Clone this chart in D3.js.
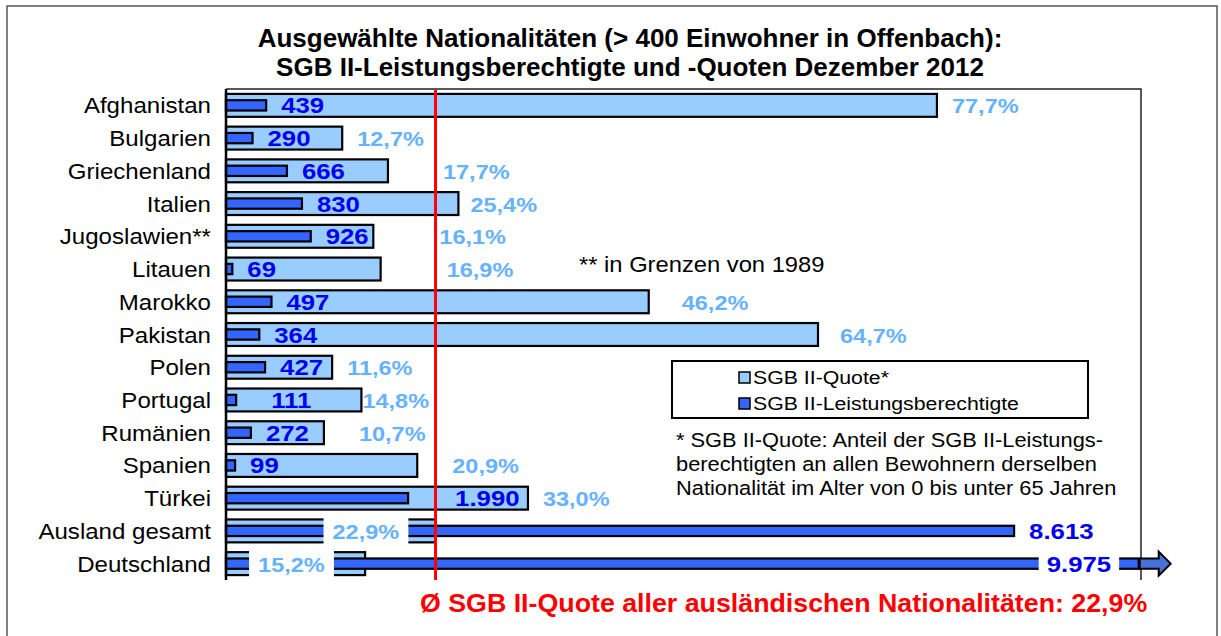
<!DOCTYPE html>
<html>
<head>
<meta charset="utf-8">
<script src="https://cdn.jsdelivr.net/npm/d3@7"></script>
<style>
  body { margin: 0; background: #fff; }
  svg { display: block; }
  text { font-family: "Liberation Sans", Arial, sans-serif; }
</style>
</head>
<body>
<div id="chart"></div>
<script>
// --- data ---
const categories = ['Afghanistan', 'Bulgarien', 'Griechenland', 'Italien', 'Jugoslawien**', 'Litauen',
    'Marokko', 'Pakistan', 'Polen', 'Portugal', 'Rumänien', 'Spanien', 'Türkei', 'Ausland gesamt', 'Deutschland'];
const quote = [77.7, 12.7, 17.7, 25.4, 16.1, 16.9, 46.2, 64.7, 11.6, 14.8, 10.7, 20.9, 33.0, 22.9, 15.2];
const recipients = [439, 290, 666, 830, 926, 69, 497, 364, 427, 111, 272, 99, 1990, 8613, 9975];
const quoteMean = 22.9;

// label nudges (px), the original labels were moved by hand
const quoteNudge = { 'Griechenland': 40, 'Italien': -3, 'Jugoslawien**': 51, 'Litauen': 51, 'Marokko': 18,
    'Pakistan': 7, 'Portugal': -14, 'Rumänien': 20, 'Spanien': 20 };
const countNudge = { 'Portugal': 20, 'Türkei': 32 };
// labels sitting on the bar with a white box: offset from bar end
const quoteBoxed = { 'Ausland gesamt': -103, 'Deutschland': -107 };
const countBoxed = { 'Deutschland': -92 };

const W = 1221, H = 636;
const plot = { left: 226, right: 1141, top: 89, bottom: 580 };

const de = d3.formatLocale({ decimal: ',', thousands: '.', grouping: [3], currency: ['', ' €'] });
const fmtCount = de.format(',d');
const fmtPct = v => de.format('.1f')(v) + '%';

const rows = categories.map((c, i) => ({ cat: c, q: quote[i], n: recipients[i] }));

const svg = d3.select('#chart').append('svg')
    .attr('width', W)
    .attr('height', H);

const y = d3.scaleBand()
    .domain(categories)
    .range([plot.top, plot.bottom])
    .paddingInner(0.3)
    .paddingOuter(0.15);
const xq = d3.scaleLinear().domain([0, 100]).range([plot.left, plot.right]);
const xn = d3.scaleLinear().domain([0, 10000]).range([plot.left, plot.right]);

const LIGHT = '#99CCFF', DARK = '#3366FF', PCT = '#66B2FF', NUM = '#0000EE';

// text helper with slight horizontal stretch (the original is a stretched Excel picture)
function txt(g, x, yy, s, o = {}) {
    return g.append('text')
        .attr('transform', `translate(${x},${yy}) scale(${o.sx || 1.12},1)`)
        .attr('text-anchor', o.anchor || 'start')
        .style('font-size', (o.size || 20) + 'px')
        .style('font-weight', o.bold ? 'bold' : 'normal')
        .style('fill', o.fill || '#000')
        .text(s);
}

// outer frame
svg.append('path')
    .attr('d', `M7,${H + 5} V6 H1217 V${H + 5}`)
    .attr('fill', 'none')
    .attr('stroke', '#555')
    .attr('stroke-width', 1.5);

// title
txt(svg, 630, 47, 'Ausgewählte Nationalitäten (> 400 Einwohner in Offenbach):', { anchor: 'middle', size: 25, bold: true, sx: 1.04 });
txt(svg, 630, 76, 'SGB II-Leistungsberechtigte und -Quoten Dezember 2012', { anchor: 'middle', size: 25, bold: true, sx: 1.04 });

// plot frame (top + right)
svg.append('path')
    .attr('d', `M${plot.left},${plot.top} H${plot.right} V${plot.bottom}`)
    .attr('fill', 'none')
    .attr('stroke', '#222')
    .attr('stroke-width', 1.5);

// light bars: SGB II-Quote
svg.append('g').selectAll('rect')
    .data(rows)
    .join('rect')
    .attr('x', xq(0))
    .attr('y', d => y(d.cat))
    .attr('width', d => xq(d.q) - xq(0))
    .attr('height', y.bandwidth())
    .attr('fill', LIGHT)
    .attr('stroke', '#000')
    .attr('stroke-width', 2.2);

// dark bars: Leistungsberechtigte
const darkH = y.bandwidth() * 0.45;
svg.append('g').selectAll('rect')
    .data(rows)
    .join('rect')
    .attr('x', xn(0))
    .attr('y', d => y(d.cat) + (y.bandwidth() - darkH) / 2)
    .attr('width', d => xn(d.n) - xn(0))
    .attr('height', darkH)
    .attr('fill', DARK)
    .attr('stroke', '#000')
    .attr('stroke-width', 2.2);

// arrow behind Deutschland bar
const last = rows[rows.length - 1];
const cy = y(last.cat) + y.bandwidth() / 2;
const ax = xn(last.n) + 1;
svg.append('path')
    .attr('d', `M${ax},${cy - darkH / 2} H${ax + 19} V${cy - 12} L${ax + 31},${cy} L${ax + 19},${cy + 12} V${cy + darkH / 2} H${ax} Z`)
    .attr('fill', '#4472D8')
    .attr('stroke', '#000')
    .attr('stroke-width', 2);

// axis line
svg.append('line')
    .attr('x1', plot.left).attr('x2', plot.left)
    .attr('y1', plot.top).attr('y2', plot.bottom)
    .attr('stroke', '#000')
    .attr('stroke-width', 2.5);

// category labels
const axG = svg.append('g');
rows.forEach(d => {
    txt(axG, 211, y(d.cat) + y.bandwidth() / 2 + 8, d.cat, { anchor: 'end', size: 21.5 });
});

// value labels
const lab = svg.append('g');
rows.forEach(d => {
    const base = y(d.cat) + y.bandwidth() / 2 + 8;
    // quote
    let qx = d.cat in quoteBoxed ? xq(d.q) + quoteBoxed[d.cat] : xq(d.q) + 15 + (quoteNudge[d.cat] || 0);
    if (d.cat in quoteBoxed) {
        const t = txt(lab, qx, base, fmtPct(d.q), { size: 21, bold: true, fill: PCT });
        const w = t.node().getBBox().width * 1.12;
        lab.insert('rect', () => t.node())
            .attr('x', qx - 9).attr('y', y(d.cat) - 3)
            .attr('width', w + 18).attr('height', y.bandwidth() + 8)
            .attr('fill', '#fff');
    } else {
        txt(lab, qx, base, fmtPct(d.q), { size: 21, bold: true, fill: PCT });
    }
    // count
    let nx = d.cat in countBoxed ? xn(d.n) + countBoxed[d.cat] : xn(d.n) + 15 + (countNudge[d.cat] || 0);
    const t2 = txt(lab, nx, base, fmtCount(d.n), { size: 23, bold: true, fill: NUM });
    if (d.cat in countBoxed) {
        const w = t2.node().getBBox().width * 1.12;
        lab.insert('rect', () => t2.node())
            .attr('x', nx - 8).attr('y', y(d.cat) - 3)
            .attr('width', w + 16).attr('height', y.bandwidth() + 8)
            .attr('fill', '#fff');
    }
});

// mean quote line
svg.append('line')
    .attr('x1', xq(quoteMean)).attr('x2', xq(quoteMean))
    .attr('y1', plot.top + 1).attr('y2', plot.bottom)
    .attr('stroke', '#FF0000')
    .attr('stroke-width', 3);

// note on Jugoslawien
txt(svg, 579, 272, '** in Grenzen von 1989', { size: 22, sx: 1.08 });

// legend
const leg = svg.append('g');
leg.append('rect')
    .attr('x', 672).attr('y', 361).attr('width', 416).attr('height', 57)
    .attr('fill', '#fff').attr('stroke', '#000').attr('stroke-width', 2);
[['SGB II-Quote*', LIGHT], ['SGB II-Leistungsberechtigte', DARK]].forEach(([name, col], i) => {
    leg.append('rect')
        .attr('x', 739).attr('y', 372 + i * 26).attr('width', 11).attr('height', 11)
        .attr('fill', col).attr('stroke', '#000').attr('stroke-width', 1.5);
    txt(leg, 753, 384 + i * 26, name, { size: 19 });
});

// footnote
['* SGB II-Quote: Anteil der SGB II-Leistungs-',
 'berechtigten an allen Bewohnern derselben',
 'Nationalität im Alter von 0 bis unter 65 Jahren'].forEach((s, i) => {
    txt(svg, 676, 447 + i * 24, s, { size: 19.5 });
});

// mean annotation
txt(svg, 420, 612, 'Ø SGB II-Quote aller ausländischen Nationalitäten: 22,9%', { size: 26, bold: true, fill: '#FF0000', sx: 1.03 });
</script>
</body>
</html>
